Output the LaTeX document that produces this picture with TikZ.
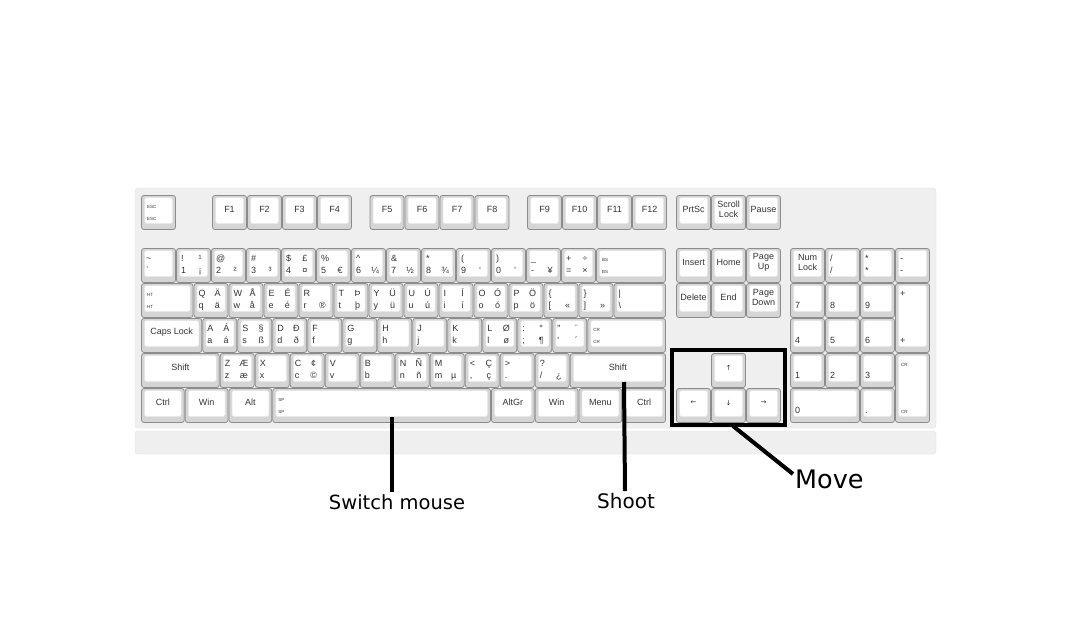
\documentclass[tikz,border=0pt]{standalone}
\usepackage{fontspec}
\newfontfamily\kf{Liberation Sans}
\newfontfamily\df{DejaVu Sans}
\definecolor{body}{HTML}{EFEFEF}
\definecolor{bodyedge}{HTML}{E0E0E0}
\definecolor{keyedge}{HTML}{8C8C8C}
\definecolor{keygray}{HTML}{D5D5D5}
\definecolor{keyinner}{HTML}{E6E6E6}
\definecolor{legend}{HTML}{333333}
\tikzset{
  kout/.style={draw=keyedge, fill=keygray, line width=0.8pt, rounded corners=2.5pt},
  kin/.style={draw=keyinner, fill=white, line width=0.5pt, rounded corners=1.5pt},
  lg/.style={font=\kf\fontsize{9}{10}\selectfont, inner sep=0pt, anchor=base west, text=legend},
  lgc/.style={font=\kf\fontsize{9}{9.5}\selectfont, inner sep=0pt, align=center, text=legend},
  tg/.style={font=\kf\fontsize{4.5}{5}\selectfont, inner sep=0pt, anchor=base west, text=legend},
  arr/.style={font=\df\fontsize{7}{8}\selectfont, inner sep=0pt, text=legend},
  callout/.style={draw=black, line width=4pt},
  lab/.style={font=\df\fontsize{19.5}{22}\selectfont, inner sep=0pt, text=black},
}
% key body
\newcommand{\K}[4]{%
  \draw[kout] (#1+0.5,#2+0.5) rectangle (#1+#3-0.5,#2+#4-0.5);
  \draw[kin] (#1+3.5,#2+2.5) rectangle (#1+#3-3.5,#2+#4-6.5);}
% 1u key with four legends
\newcommand{\QK}[6]{\K{#1}{#2}{35}{35}%
  \node[lg] at (#1+5,#2+13) {#3};
  \node[lg,anchor=base] at (#1+24,#2+13) {#4};
  \node[lg] at (#1+5,#2+25) {#5};
  \node[lg,anchor=base] at (#1+24,#2+25) {#6};}
% key with centred label
\newcommand{\CK}[5]{\K{#1}{#2}{#3}{#4}%
  \node[lgc] at (#1+#3/2,#2+14.5) {#5};}
% key with tiny tag twice
\newcommand{\TK}[5]{\K{#1}{#2}{#3}{#4}%
  \node[tg] at (#1+6,#2+13) {#5};
  \node[tg] at (#1+6,#2+#4-10) {#5};}
\begin{document}
\begin{tikzpicture}[x=1pt,y=-1pt]
\useasboundingbox (0,0) rectangle (1080,640);
\fill[white] (0,0) rectangle (1080,640);
% keyboard body
\draw[draw=bodyedge, fill=body, rounded corners=3pt] (135,188) rectangle (936,428);
\draw[draw=bodyedge, fill=body, rounded corners=3pt] (135,431) rectangle (936,454);
% ---- function row
\TK{141}{195}{35}{35}{ESC}
\CK{212}{195}{35}{35}{F1}
\CK{247}{195}{35}{35}{F2}
\CK{282}{195}{35}{35}{F3}
\CK{317}{195}{35}{35}{F4}
\CK{369.5}{195}{35}{35}{F5}
\CK{404.5}{195}{35}{35}{F6}
\CK{439.5}{195}{35}{35}{F7}
\CK{474.5}{195}{35}{35}{F8}
\CK{527}{195}{35}{35}{F9}
\CK{562}{195}{35}{35}{F10}
\CK{597}{195}{35}{35}{F11}
\CK{632}{195}{35}{35}{F12}
\CK{676}{195}{35}{35}{PrtSc}
\CK{711}{195}{35}{35}{Scroll\\Lock}
\CK{746}{195}{35}{35}{Pause}
% ---- number row
\QK{141}{248}{\textasciitilde}{}{\textasciigrave}{}
\QK{176}{248}{!}{¹}{1}{¡}
\QK{211}{248}{@}{}{2}{²}
\QK{246}{248}{\#}{}{3}{³}
\QK{281}{248}{\$}{£}{4}{¤}
\QK{316}{248}{\%}{}{5}{€}
\QK{351}{248}{\textasciicircum}{}{6}{¼}
\QK{386}{248}{\&}{}{7}{½}
\QK{421}{248}{*}{}{8}{¾}
\QK{456}{248}{(}{}{9}{‘}
\QK{491}{248}{)}{}{0}{’}
\QK{526}{248}{\_}{}{-}{¥}
\QK{561}{248}{+}{÷}{=}{×}
\TK{596}{248}{70}{35}{BS}
% ---- Q row
\TK{141}{283}{52.5}{35}{HT}
\QK{193.5}{283}{Q}{Ä}{q}{ä}
\QK{228.5}{283}{W}{Å}{w}{å}
\QK{263.5}{283}{E}{É}{e}{é}
\QK{298.5}{283}{R}{}{r}{®}
\QK{333.5}{283}{T}{Þ}{t}{þ}
\QK{368.5}{283}{Y}{Ü}{y}{ü}
\QK{403.5}{283}{U}{Ú}{u}{ú}
\QK{438.5}{283}{I}{Í}{i}{í}
\QK{473.5}{283}{O}{Ó}{o}{ó}
\QK{508.5}{283}{P}{Ö}{p}{ö}
\QK{543.5}{283}{\{}{}{[}{«}
\QK{578.5}{283}{\}}{}{]}{»}
\K{613.5}{283}{52.5}{35}
\node[lg] at (618.5,296) {|};
\node[lg] at (618.5,308) {\textbackslash};
% ---- A row
\CK{141}{318}{61.25}{35}{Caps Lock}
\QK{202.25}{318}{A}{Á}{a}{á}
\QK{237.25}{318}{S}{§}{s}{ß}
\QK{272.25}{318}{D}{Ð}{d}{ð}
\QK{307.25}{318}{F}{}{f}{}
\QK{342.25}{318}{G}{}{g}{}
\QK{377.25}{318}{H}{}{h}{}
\QK{412.25}{318}{J}{}{j}{}
\QK{447.25}{318}{K}{}{k}{}
\QK{482.25}{318}{L}{Ø}{l}{ø}
\QK{517.25}{318}{:}{°}{;}{¶}
\QK{552.25}{318}{\textquotedbl}{¨}{\textquotesingle}{´}
\TK{587.25}{318}{78.75}{35}{CR}
% ---- Z row
\CK{141}{353}{78.75}{35}{Shift}
\QK{219.75}{353}{Z}{Æ}{z}{æ}
\QK{254.75}{353}{X}{}{x}{}
\QK{289.75}{353}{C}{¢}{c}{©}
\QK{324.75}{353}{V}{}{v}{}
\QK{359.75}{353}{B}{}{b}{}
\QK{394.75}{353}{N}{Ñ}{n}{ñ}
\QK{429.75}{353}{M}{}{m}{µ}
\QK{464.75}{353}{<}{Ç}{,}{ç}
\QK{499.75}{353}{>}{}{.}{}
\QK{534.75}{353}{?}{}{/}{¿}
\CK{569.75}{353}{96.25}{35}{Shift}
% ---- bottom row
\CK{141}{388}{43.75}{35}{Ctrl}
\CK{184.75}{388}{43.75}{35}{Win}
\CK{228.5}{388}{43.75}{35}{Alt}
\TK{272.25}{388}{218.75}{35}{SP}
\CK{491}{388}{43.75}{35}{AltGr}
\CK{534.75}{388}{43.75}{35}{Win}
\CK{578.5}{388}{43.75}{35}{Menu}
\CK{622.25}{388}{43.75}{35}{Ctrl}
% ---- navigation
\CK{676}{248}{35}{35}{Insert}
\CK{711}{248}{35}{35}{Home}
\CK{746}{248}{35}{35}{Page\\Up}
\CK{676}{283}{35}{35}{Delete}
\CK{711}{283}{35}{35}{End}
\CK{746}{283}{35}{35}{Page\\Down}
\K{711}{353}{35}{35}\node[arr] at (728.5,367.5) {↑};
\K{676}{388}{35}{35}\node[arr] at (693.5,402.5) {←};
\K{711}{388}{35}{35}\node[arr] at (728.5,402.5) {↓};
\K{746}{388}{35}{35}\node[arr] at (763.5,402.5) {→};
% ---- numeric pad
\CK{790}{248}{35}{35}{Num\\Lock}
\QK{825}{248}{/}{}{/}{}
\QK{860}{248}{*}{}{*}{}
\QK{895}{248}{-}{}{-}{}
\QK{790}{283}{}{}{7}{}
\QK{825}{283}{}{}{8}{}
\QK{860}{283}{}{}{9}{}
\K{895}{283}{35}{70}
\node[lg] at (900,296) {+};
\node[lg] at (900,343) {+};
\QK{790}{318}{}{}{4}{}
\QK{825}{318}{}{}{5}{}
\QK{860}{318}{}{}{6}{}
\QK{790}{353}{}{}{1}{}
\QK{825}{353}{}{}{2}{}
\QK{860}{353}{}{}{3}{}
\TK{895}{353}{35}{70}{CR}
\K{790}{388}{70}{35}
\node[lg] at (795,413) {0};
\QK{860}{388}{}{}{.}{}
% ---- annotations
\node[lab] (sw) at (397,502) {Switch mouse};
\node[lab, font=\df\fontsize{20}{22}\selectfont] (sh) at (626,501) {Shoot};
\node[lab, font=\df\fontsize{25.5}{28}\selectfont, anchor=west] (mv) at (795,479) {Move};
\coordinate (swtop) at (392,417);
\coordinate (swbot) at (392,492);
\coordinate (shtop) at (624,382);
\coordinate (shbot) at (625,491);
\coordinate (boxa) at (672,350);
\coordinate (boxb) at (785,425);
\coordinate (mvtop) at (733,426);
\coordinate (mvbot) at (793,474);
\draw[callout] (swtop) -- (swbot);
\draw[callout] (shtop) -- (shbot);
\draw[callout] (boxa) rectangle (boxb);
\draw[callout] (mvtop) -- (mvbot);
\end{tikzpicture}
\end{document}
